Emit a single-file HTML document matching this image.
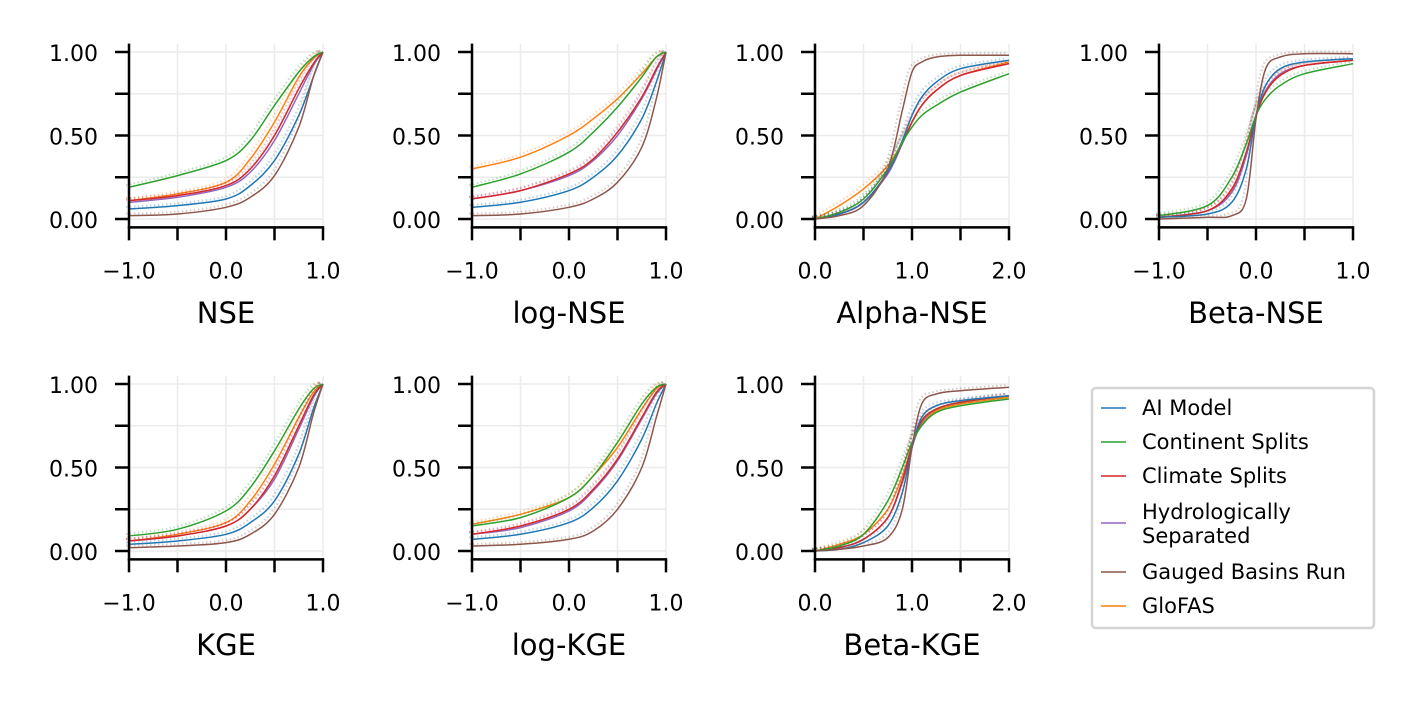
<!DOCTYPE html>
<html><head><meta charset="utf-8"><style>
html,body{margin:0;padding:0;background:#fff;}
svg{display:block;font-family:"DejaVu Sans","Liberation Sans",sans-serif;}
</style></head><body>
<svg id="fig" width="1417" height="708" viewBox="0 0 1417 708" xmlns="http://www.w3.org/2000/svg">
<g id="legend">
<rect x="1092" y="388" width="282" height="240" rx="4" fill="#fff" stroke="#d4d4d4" stroke-width="2.5"/>
</g>
</svg>
<script>
const seriesNames=["AI Model","Continent Splits","Climate Splits","Hydrologically Separated","Gauged Basins Run","GloFAS"];
const seriesColors=["#1f77b4","#2ca02c","#d62728","#9467bd","#8c564b","#ff7f0e"];
const panelTitles=["NSE","log-NSE","Alpha-NSE","Beta-NSE","KGE","log-KGE","Beta-KGE"];
const xsA=[-1,-0.5,0,0.25,0.5,0.75,0.9,1];
const xsB=[0,0.25,0.5,0.75,0.9,1,1.1,1.25,1.5,2];
const xsC=[-1,-0.5,-0.25,-0.1,0,0.1,0.25,0.5,1];
const nseVals=[[0.06,0.08,0.12,0.2,0.35,0.62,0.85,1],[0.19,0.26,0.35,0.47,0.68,0.88,0.97,1],[0.11,0.14,0.2,0.3,0.5,0.78,0.93,1],[0.1,0.13,0.19,0.28,0.47,0.75,0.92,1],[0.02,0.03,0.07,0.13,0.26,0.55,0.85,1],[0.11,0.15,0.22,0.36,0.58,0.85,0.96,1]];
const logNseVals=[[0.07,0.1,0.17,0.25,0.38,0.6,0.82,1],[0.19,0.27,0.4,0.52,0.67,0.85,0.97,1],[0.12,0.17,0.27,0.36,0.52,0.73,0.9,1],[0.12,0.17,0.26,0.35,0.5,0.72,0.89,1],[0.02,0.03,0.07,0.12,0.22,0.43,0.72,1],[0.3,0.37,0.5,0.6,0.72,0.87,0.97,1]];
const alphaNseVals=[[0,0.03,0.1,0.28,0.47,0.62,0.73,0.82,0.9,0.95],[0,0.04,0.12,0.3,0.46,0.55,0.62,0.68,0.76,0.87],[0,0.03,0.1,0.28,0.46,0.58,0.68,0.77,0.86,0.93],[0,0.03,0.1,0.27,0.45,0.58,0.68,0.77,0.86,0.93],[0,0.02,0.08,0.3,0.65,0.88,0.94,0.97,0.98,0.98],[0,0.08,0.18,0.32,0.46,0.58,0.68,0.77,0.86,0.94]];
const betaNseVals=[[0.01,0.03,0.1,0.3,0.62,0.8,0.9,0.94,0.96],[0.02,0.08,0.25,0.45,0.62,0.72,0.8,0.87,0.93],[0.01,0.05,0.18,0.4,0.62,0.76,0.86,0.92,0.95],[0.01,0.05,0.16,0.38,0.62,0.77,0.87,0.92,0.95],[0,0.01,0.02,0.12,0.6,0.9,0.97,0.99,0.99],[0.01,0.05,0.17,0.39,0.62,0.76,0.86,0.92,0.95]];
const kgeVals=[[0.04,0.06,0.1,0.17,0.3,0.58,0.85,1],[0.09,0.13,0.24,0.38,0.6,0.85,0.97,1],[0.06,0.09,0.15,0.25,0.45,0.75,0.93,1],[0.06,0.09,0.15,0.25,0.43,0.73,0.92,1],[0.02,0.03,0.05,0.1,0.22,0.5,0.82,1],[0.06,0.1,0.17,0.3,0.52,0.8,0.95,1]];
const logKgeVals=[[0.07,0.1,0.17,0.26,0.42,0.67,0.88,1],[0.15,0.2,0.32,0.45,0.65,0.88,0.98,1],[0.1,0.15,0.25,0.37,0.55,0.8,0.95,1],[0.1,0.14,0.24,0.36,0.54,0.79,0.94,1],[0.03,0.04,0.07,0.12,0.25,0.5,0.8,1],[0.16,0.22,0.32,0.45,0.62,0.85,0.97,1]];
const betaKgeVals=[[0,0.01,0.05,0.15,0.35,0.62,0.8,0.87,0.9,0.93],[0,0.03,0.1,0.3,0.5,0.65,0.75,0.83,0.87,0.91],[0,0.02,0.07,0.2,0.42,0.63,0.78,0.85,0.89,0.93],[0,0.02,0.07,0.2,0.41,0.62,0.77,0.85,0.89,0.93],[0,0.01,0.03,0.08,0.25,0.62,0.88,0.94,0.96,0.98],[0,0.04,0.1,0.25,0.45,0.63,0.76,0.84,0.88,0.92]];
const yTicks=[0,0.25,0.5,0.75,1];
const yTickLabels=["0.00","","0.50","","1.00"];
const panels=[
 {xs:xsA,vals:nseVals,xmin:-1,xmax:1,ticks:[-1,-0.5,0,0.5,1],labels:["\u22121.0","","0.0","","1.0"]},
 {xs:xsA,vals:logNseVals,xmin:-1,xmax:1,ticks:[-1,-0.5,0,0.5,1],labels:["\u22121.0","","0.0","","1.0"]},
 {xs:xsB,vals:alphaNseVals,xmin:0,xmax:2,ticks:[0,0.5,1,1.5,2],labels:["0.0","","1.0","","2.0"]},
 {xs:xsC,vals:betaNseVals,xmin:-1,xmax:1,ticks:[-1,-0.5,0,0.5,1],labels:["\u22121.0","","0.0","","1.0"]},
 {xs:xsA,vals:kgeVals,xmin:-1,xmax:1,ticks:[-1,-0.5,0,0.5,1],labels:["\u22121.0","","0.0","","1.0"]},
 {xs:xsA,vals:logKgeVals,xmin:-1,xmax:1,ticks:[-1,-0.5,0,0.5,1],labels:["\u22121.0","","0.0","","1.0"]},
 {xs:xsB,vals:betaKgeVals,xmin:0,xmax:2,ticks:[0,0.5,1,1.5,2],labels:["0.0","","1.0","","2.0"]}
];
const NS="http://www.w3.org/2000/svg";
const svg=document.getElementById('fig');
function mk(tag,attrs,parent){const e=document.createElementNS(NS,tag);for(const k in attrs)e.setAttribute(k,attrs[k]);(parent||svg).appendChild(e);return e;}
const colX=[129,472,815,1159], W=194;
const rowTop=[52,384], rowZero=[219,551];
function pathFor(pts){let d="M"+pts[0][0]+","+pts[0][1];
 for(let i=0;i<pts.length-1;i++){const p0=pts[Math.max(0,i-1)],p1=pts[i],p2=pts[i+1],p3=pts[Math.min(pts.length-1,i+2)];
  const c1x=p1[0]+(p2[0]-p0[0])/6,c1y=p1[1]+(p2[1]-p0[1])/6,c2x=p2[0]-(p3[0]-p1[0])/6,c2y=p2[1]-(p3[1]-p1[1])/6;
  d+=" C"+c1x.toFixed(1)+","+c1y.toFixed(1)+" "+c2x.toFixed(1)+","+c2y.toFixed(1)+" "+p2[0].toFixed(1)+","+p2[1].toFixed(1);}
 return d;}
const drawOrder=[5,3,2,0,1,4];
panels.forEach((p,i)=>{
 const r=i<4?0:1, c=i<4?i:i-4;
 const x0=colX[c], y1=rowTop[r], y0=rowZero[r];
 const sx=v=>x0+(v-p.xmin)/(p.xmax-p.xmin)*W;
 const sy=v=>y0-v*(y0-y1);
 const g=mk('g',{});
 
 
 p.ticks.forEach(t=>{mk('line',{x1:sx(t),x2:sx(t),y1:sy(1.05),y2:sy(-0.05),stroke:'#ebebeb','stroke-width':1.5},g);});
 yTicks.forEach(t=>{mk('line',{x1:x0,x2:x0+W,y1:sy(t),y2:sy(t),stroke:'#ebebeb','stroke-width':1.5},g);});
 drawOrder.forEach(s=>{
  const pts=p.xs.map((x,k)=>[sx(x),sy(p.vals[s][k])]);
  const dot=mk('path',{d:pathFor(pts.map(q=>[q[0]-3,q[1]-2])),fill:'none',stroke:seriesColors[s],'stroke-width':2.2,'stroke-dasharray':'1.5 2.5',opacity:0.3},g);
  
  
  const ln=mk('path',{d:pathFor(pts),fill:'none',stroke:seriesColors[s],'stroke-width':1.5},g);
  
  
 });
 const by=sy(-0.05);
 mk('line',{x1:x0,x2:x0,y1:sy(1.05),y2:by+1.2,stroke:'#000','stroke-width':2.5},g);
 mk('line',{x1:x0-1.2,x2:x0+W+1.2,y1:by,y2:by,stroke:'#000','stroke-width':2.5},g);
 p.ticks.forEach((t,k)=>{
  mk('line',{x1:sx(t),x2:sx(t),y1:by,y2:by+13,stroke:'#000','stroke-width':2.5},g);
  if(p.labels[k]){const tx=mk('text',{x:sx(t),y:by+51,'font-size':22,'text-anchor':'middle',fill:'#000'},g);tx.textContent=p.labels[k];
   }
 });
 yTicks.forEach((t,k)=>{
  mk('line',{x1:x0-14,x2:x0,y1:sy(t),y2:sy(t),stroke:'#000','stroke-width':2.5},g);
  if(yTickLabels[k]){const tx=mk('text',{x:x0-31,y:sy(t)+9,'font-size':22,'text-anchor':'end',fill:'#000'},g);tx.textContent=yTickLabels[k];
   }
 });
 const tt=mk('text',{x:x0+W/2,y:y0+104,'font-size':29,'text-anchor':'middle',fill:'#000'},g);
 tt.textContent=panelTitles[i];
 
 
});
const lg=document.getElementById('legend');
const legY=[408,442,476,513,572,606];
seriesNames.forEach((n,s)=>{
 const e=mk('g',{},lg);
 
 
 const ly=s===3?legY[s]+10:legY[s];
 mk('line',{x1:1101,x2:1126,y1:ly,y2:ly,stroke:seriesColors[s],'stroke-width':1.5},e);
 if(s===3){
  const t1=mk('text',{x:1142,y:legY[s]+6,'font-size':21,fill:'#000'},e);t1.textContent="Hydrologically";
  const t2=mk('text',{x:1142,y:legY[s]+30,'font-size':21,fill:'#000'},e);t2.textContent="Separated";
 } else {
  const t=mk('text',{x:1142,y:ly+7,'font-size':21,fill:'#000'},e);t.textContent=n;
 }
});
</script>
</body></html>
